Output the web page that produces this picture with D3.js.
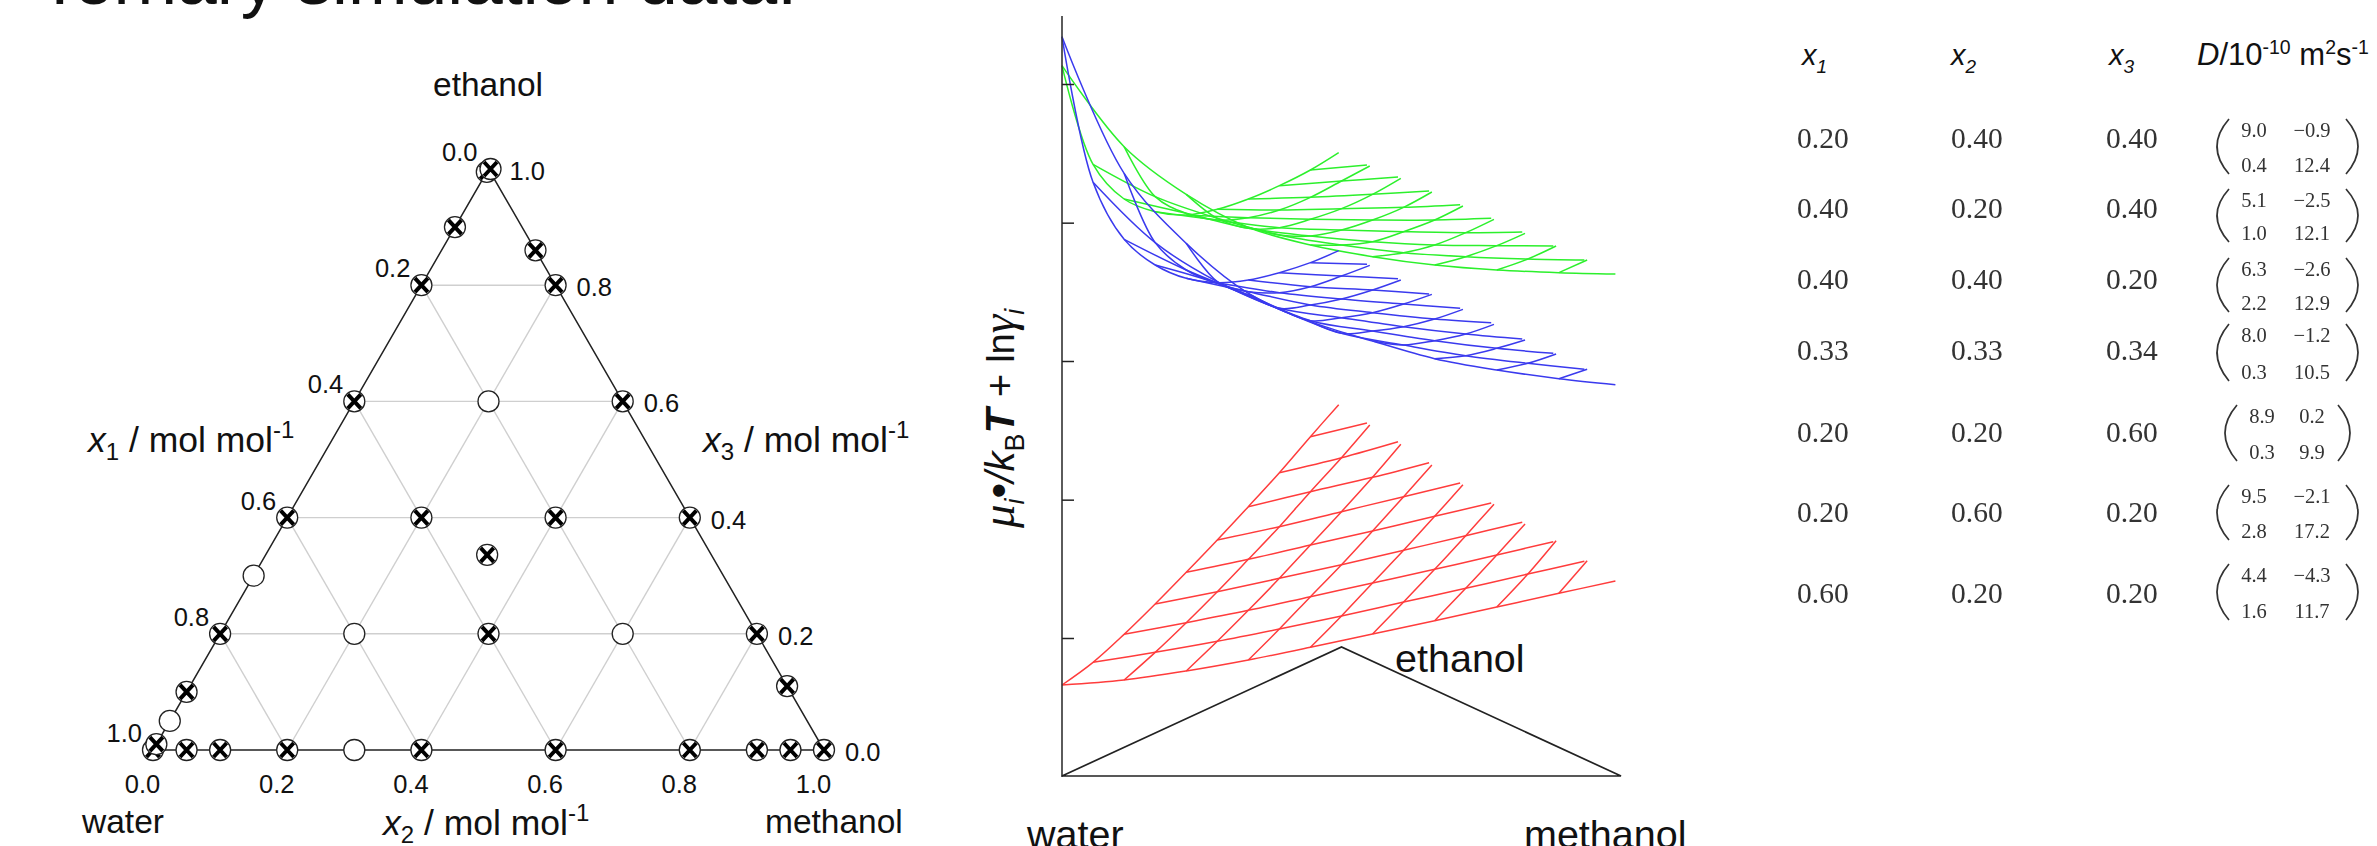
<!DOCTYPE html>
<html><head><meta charset="utf-8">
<style>html,body{margin:0;padding:0;background:#fff;overflow:hidden}svg{display:block}text{font-family:"Liberation Sans",Arial,sans-serif;fill:#111}</style>
<script src="https://cdn.jsdelivr.net/npm/d3@7/dist/d3.min.js"></script>
</head><body><script>
// ---------- data ----------
const ternaryTicks = [0, 0.2, 0.4, 0.6, 0.8, 1];
const gridLevels = [0.2, 0.4, 0.6, 0.8];
// simulated compositions [x2, x3]
const crossedPoints = [[0,0],[0,0.01],[0.05,0],[0.1,0],[0.2,0],[0.4,0],[0.6,0],[0.8,0],[0.9,0],[0.95,0],[1,0],
  [0,0.1],[0,0.2],[0,0.4],[0,0.6],[0,0.8],[0,0.9],[0,0.995],[0.003,1],
  [0.14,0.86],[0.2,0.8],[0.4,0.6],[0.6,0.4],[0.8,0.2],[0.89,0.11],
  [0.2,0.4],[0.4,0.4],[0.33,0.336],[0.4,0.2]];
const openPoints = [[0.3,0],[0,0.05],[0,0.3],[0.2,0.6],[0.2,0.2],[0.6,0.2]];
// chemical potential meshes: each row is a constant x3 = i/9, values for x2 = j/9, last value at x1 = 0.01
const muGreen = [
 [1717,1474,1331,1232,1179,1144,1119,1104,1096,1092],
 [1421,1324,1259,1209,1179,1156,1144,1137,1134],
 [1317,1274,1229,1206,1189,1179,1177,1176],
 [1279,1254,1231,1224,1219,1216,1218],
 [1269,1261,1256,1254,1254,1259],
 [1286,1284,1288,1292,1300],
 [1317,1322,1331,1341],
 [1357,1371,1383],
 [1404,1419]];
const muGreenEnds = [1456,1416,1379,1338,1296,1256,1214,1176,1134];
const muBlue = [
 [1804,1394,1184,1034,949,891,838,804,778,760],
 [1367,1186,1069,986,914,879,847,824,806],
 [1196,1104,1029,952,921,892,869,854],
 [1119,1064,989,961,934,912,897],
 [1079,1039,999,976,957,946],
 [1066,1036,1017,1002,989],
 [1074,1054,1044,1032],
 [1096,1086,1078],
 [1126,1121]];
const muBlueEnds = [1162,1118,1074,1031,986,941,894,852,806];
const muRed = [
 [-141,-126,-99,-66,-28,12,52,93,134,171],
 [-73,-43,-10,27,66,108,149,192,230],
 [11,46,83,124,165,206,249,289],
 [102,139,179,220,263,307,347],
 [197,236,279,321,365,405],
 [294,334,379,424,465],
 [394,439,482,526],
 [496,541,589],
 [604,645]];
const muRedEnds = [700,639,581,519,460,401,342,292,232];
const muTicks = [0,415,831,1246,1662];
// table
const tableX1 = ["0.20","0.40","0.40","0.33","0.20","0.20","0.60"];
const tableX2 = ["0.40","0.20","0.40","0.33","0.20","0.60","0.20"];
const tableX3 = ["0.40","0.40","0.20","0.34","0.60","0.20","0.20"];
const tableD = [["9.0","\u22120.9","0.4","12.4"],["5.1","\u22122.5","1.0","12.1"],["6.3","\u22122.6","2.2","12.9"],
  ["8.0","\u22121.2","0.3","10.5"],["8.9","0.2","0.3","9.9"],["9.5","\u22122.1","2.8","17.2"],["4.4","\u22124.3","1.6","11.7"]];

// ---------- layout ----------
const W=2377,H=846;
const svg=d3.select("body").append("svg").attr("width",W).attr("height",H);
const sans='"Liberation Sans",Arial,sans-serif', serif='"Liberation Serif",serif';
function rich(parts,x,y,size,opt={}){
  const t=svg.append("text").attr("x",x).attr("y",y).attr("font-size",size);
  if(opt.rotate) t.attr("transform",`rotate(${opt.rotate} ${x} ${y})`);
  if(opt.anchor) t.attr("text-anchor",opt.anchor);
  let shift=0;
  parts.forEach(p=>{
    const [s,o={}]=Array.isArray(p)?p:[p];
    const ts=t.append("tspan").text(s).attr("xml:space","preserve").style("white-space","pre");
    const fs=o.size||size;
    ts.attr("font-size",fs);
    const want=o.dy||0;
    ts.attr("dy",want-shift); shift=want;
    if(o.italic)ts.attr("font-style","italic");
    if(o.bold)ts.attr("font-weight","bold");
    if(o.family)ts.style("font-family",o.family);
  });
  return t;
}
function label(s,x,y,size,anchor="start"){return svg.append("text").attr("x",x).attr("y",y).attr("font-size",size).attr("text-anchor",anchor).text(s);}

// title (clipped by the top of the page)
label("Ternary simulation data:",38,4,71.5);

// ---------- ternary diagram ----------
const tx=d3.scaleLinear().domain([0,1]).range([153,824]);
const ty=d3.scaleLinear().domain([0,1]).range([750,169]);
const P=(x2,x3)=>[tx(x2+x3/2),ty(x3)];
const line=d3.line();
const g=svg.append("g");
const gridSegs=[];
gridLevels.forEach(v=>{
  gridSegs.push([P(0,v),P(1-v,v)]);      // constant x3
  gridSegs.push([P(v,0),P(v,1-v)]);      // constant x2
  gridSegs.push([P(0,1-v),P(1-v,0)]);    // constant x1
});
g.selectAll("path.grid").data(gridSegs).join("path").attr("class","grid").attr("d",line)
 .attr("fill","none").attr("stroke","#cfcfcf").attr("stroke-width",1.4);
g.append("path").attr("d",line([P(0,0),P(1,0),P(0,1)])+"Z").attr("fill","none").attr("stroke","#222").attr("stroke-width",1.5);
g.selectAll("circle.open").data(openPoints).join("circle").attr("class","open")
 .attr("cx",d=>P(d[0],d[1])[0]).attr("cy",d=>P(d[0],d[1])[1]).attr("r",10.5)
 .attr("fill","#fff").attr("stroke","#222").attr("stroke-width",1.3);
const cr=g.selectAll("g.cross").data(crossedPoints).join("g").attr("class","cross")
 .attr("transform",d=>`translate(${P(d[0],d[1])})`);
cr.append("circle").attr("r",10.5).attr("fill","#fff").attr("stroke","#222").attr("stroke-width",1.3);
cr.append("path").attr("d","M-6.5,-7L6.5,7M-6.5,7L6.5,-7").attr("stroke","#000").attr("stroke-width",4).attr("fill","none");

ternaryTicks.forEach(v=>{
  label(v.toFixed(1),tx(v)-10.5,793,25.5,"middle");            // x2, bottom
  const r=P(1-v,v); label(v.toFixed(1),r[0]+21,r[1]+11,25.5); // x3, right
  const l=P(0,1-v); label(v.toFixed(1),l[0]-11,l[1]-8,25.5,"end"); // x1, left
});
label("ethanol",488,96,33.5,"middle");
label("water",82,833,33.5);
label("methanol",765,833,33.5);
const unit=(n,x,y)=>rich([["x",{italic:true}],[n,{size:24,dy:8}],[" / mol mol",{dy:0}],["-1",{size:24,dy:-14}]],x,y,35.5);
unit("1",88,452);unit("3",703,452);unit("2",383,835);

// ---------- chemical potential panel ----------
const mx=d3.scaleLinear().domain([0,1]).range([1062,1621]);
const my=d3.scaleLinear().domain([-417,1866]).range([777,16]);
const curve=d3.line().x(d=>mx(d.x2+d.x3/2)).y(d=>my(d.v)).curve(d3.curveCatmullRom.alpha(0.5));
function meshLines(rows,ends){
  const lines=[];
  rows.forEach((row,i)=>{ // constant x3
    lines.push(row.map((v,j)=>({x3:i/9,x2:j<row.length-1?j/9:0.99-i/9,v})));
  });
  ends.forEach((end,j)=>{ // constant x2
    const pts=[];
    rows.forEach((row,i)=>{ if(j<row.length-1) pts.push({x2:j/9,x3:i/9,v:row[j]}); });
    pts.push({x2:j/9,x3:0.99-j/9,v:end});
    lines.push(pts);
  });
  return lines;
}
[[muRed,muRedEnds,"#ff3c3c"],[muGreen,muGreenEnds,"#2cf02c"],[muBlue,muBlueEnds,"#3a3aee"]].forEach(([r,e,c])=>{
  svg.append("g").selectAll("path").data(meshLines(r,e)).join("path").attr("d",curve)
   .attr("fill","none").attr("stroke",c).attr("stroke-width",1.5);
});
const axY=d3.axisLeft(my).tickValues(muTicks).tickSize(-12).tickFormat("");
const ag=svg.append("g").attr("transform","translate(1062,0)").call(axY);
ag.select(".domain").attr("stroke","#333").attr("stroke-width",1.6).attr("d",`M0,${my.range()[1]}V${my.range()[0]}`);
ag.selectAll(".tick line").attr("stroke","#222").attr("stroke-width",1.5);
// composition triangle below the meshes
const triY=d3.scaleLinear().domain([0,1]).range([776,647]);
svg.append("path").attr("d",line([[mx(0),triY(0)],[mx(0.5),triY(1)],[mx(1),triY(0)]])+"Z")
 .attr("fill","none").attr("stroke","#222").attr("stroke-width",1.7);
label("ethanol",1395,672,39.5);
label("water",1027,848,39.5);
label("methanol",1524,848,39.5);
rich([["\u03bc",{italic:true,family:serif,size:47}],["i",{italic:true,size:27,dy:10}],["\u2022",{dy:0,size:45}],["/",{italic:true,size:40}],["k",{italic:true,size:40}],["B",{size:27,dy:10}],["T",{italic:true,bold:true,dy:0,size:41}],[" + ",{size:40}],["ln",{size:38}],["\u03b3",{italic:true,family:serif,size:47}],["i",{italic:true,size:27,dy:10}]],1014,528,40,{rotate:-90});

// ---------- table ----------
const colX=[1797,1951,2106];
const rowY=[148,218,289,360,442,522,603];
const topY=[137,207,276,342,423,503,582];
const botY=[172,240,310,379,459,538,618];
[["x","1",1802],["x","2",1951],["x","3",2109]].forEach(([a,b,x])=>rich([[a,{italic:true}],[b,{italic:true,size:19,dy:8}]],x,65,29));
rich([["D",{italic:true}],"/10",["-10",{size:19.5,dy:-11}],[" m",{dy:0}],["2",{size:19.5,dy:-11}],["s",{dy:0}],["-1",{size:19.5,dy:-11}]],2197,65,31);
const tg=svg.append("g").attr("style","filter:blur(0.45px)");
function tcell(s,x,y,size,anchor){tg.append("text").attr("x",x).attr("y",y).attr("font-size",size).attr("text-anchor",anchor||"start").style("font-family",serif).style("fill","#333").text(s);}
[tableX1,tableX2,tableX3].forEach((col,c)=>col.forEach((s,r)=>tcell(s,colX[c],rowY[r],29.5)));
tableD.forEach((m,r)=>{
  const wide=r===4;
  const ca=wide?2262:2254, cb=2312;
  tcell(m[0],ca,topY[r],20.5,"middle");tcell(m[1],cb,topY[r],20.5,"middle");
  tcell(m[2],ca,botY[r],20.5,"middle");tcell(m[3],cb,botY[r],20.5,"middle");
  const top=topY[r]-18,bot=botY[r]+2,mid=(top+bot)/2;
  const lx=wide?2237:2229, rx=wide?2338:2346, w=24;
  tg.append("path").attr("d",`M${lx},${top}Q${lx-w},${mid} ${lx},${bot}`).attr("fill","none").attr("stroke","#333").attr("stroke-width",1.7);
  tg.append("path").attr("d",`M${rx},${top}Q${rx+w},${mid} ${rx},${bot}`).attr("fill","none").attr("stroke","#333").attr("stroke-width",1.7);
});
</script></body></html>
